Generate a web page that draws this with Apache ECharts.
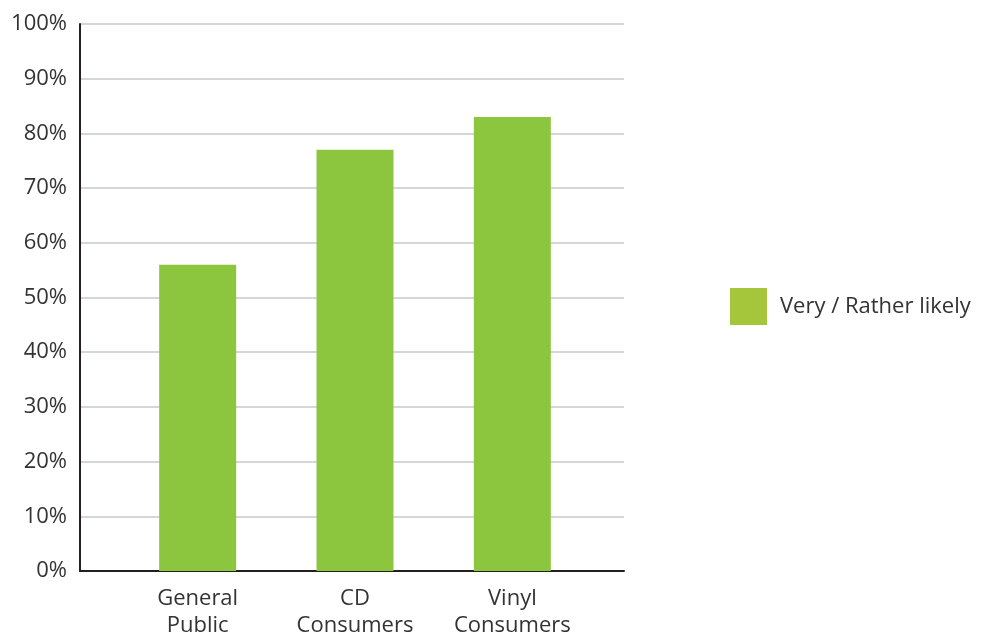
<!DOCTYPE html>
<html><head><meta charset="utf-8">
<script src="https://cdn.jsdelivr.net/npm/echarts@6/dist/echarts.min.js"></script>
<style>html,body{margin:0;padding:0;background:#fff}#c{width:982px;height:635px}</style>
</head><body><div id="c"></div>
<script>
var categories = ['General\nPublic', 'CD\nConsumers', 'Vinyl\nConsumers'];
var seriesName = 'Very / Rather likely';
var values = [56, 77, 83];
var yTicks = [0, 10, 20, 30, 40, 50, 60, 70, 80, 90, 100];

var font = '"Open Sans", Lato, sans-serif';
var yMin = yTicks[0], yMax = yTicks[yTicks.length - 1];
var chart = echarts.init(document.getElementById('c'));
chart.setOption({
  animation: false,
  grid: [
    {left: 80, right: 358, top: 24, bottom: 64, outerBoundsMode: 'none', containLabel: false},
    {left: 119, right: 391, top: 24, bottom: 64, outerBoundsMode: 'none', containLabel: false}
  ],
  legend: {
    left: 730, top: 288, orient: 'vertical', padding: 0,
    itemWidth: 37, itemHeight: 37, itemGap: 10,
    icon: 'rect',
    textStyle: {fontFamily: font, fontSize: 22, color: '#333', padding: [0, 0, 0, 8]},
    data: [{name: seriesName, itemStyle: {color: '#a5c53a'}}]
  },
  xAxis: [{
    gridIndex: 0, type: 'value', min: 0, max: 1,
    axisLine: {show: true, onZero: false, lineStyle: {color: '#231f20', width: 2}},
    axisTick: {show: false}, axisLabel: {show: false}, splitLine: {show: false}
  }, {
    gridIndex: 1, type: 'category', data: categories,
    axisLine: {show: false, onZero: false},
    axisTick: {show: false},
    axisLabel: {fontFamily: font, fontSize: 22, color: '#333', lineHeight: 27, margin: 14}
  }],
  yAxis: [{
    gridIndex: 0, type: 'value', min: yMin, max: yMax, interval: 10,
    axisLine: {show: true, lineStyle: {color: '#231f20', width: 2}},
    axisTick: {show: false},
    splitLine: {lineStyle: {color: '#c8c8c8', width: 1.5}},
    axisLabel: {fontFamily: font, fontSize: 22, color: '#333', margin: 13, formatter: '{value}%'}
  }, {
    gridIndex: 1, type: 'value', min: yMin, max: yMax, show: false
  }],
  series: [{
    name: seriesName, type: 'bar', data: values, barWidth: 77,
    xAxisIndex: 1, yAxisIndex: 1,
    itemStyle: {color: '#8cc63f'}
  }]
});
</script></body></html>
